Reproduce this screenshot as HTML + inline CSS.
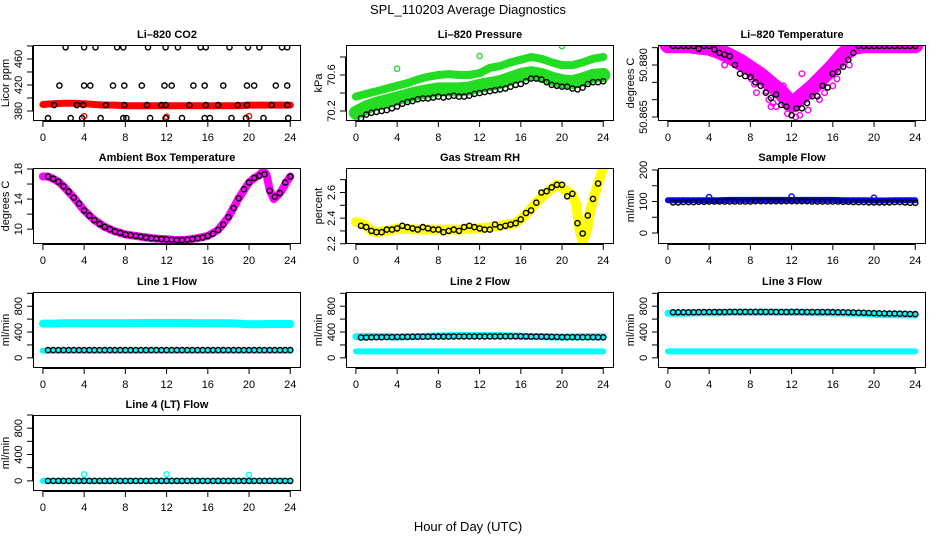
<!DOCTYPE html>
<html><head><meta charset="utf-8"><style>
html,body{margin:0;padding:0;background:#fff;}
svg{display:block;font-family:"Liberation Sans","DejaVu Sans",sans-serif;}
</style></head><body>
<svg id="chart" width="936" height="540" viewBox="0 0 936 540" xmlns="http://www.w3.org/2000/svg">
<text x="468" y="14" text-anchor="middle" font-size="13">SPL_110203  Average Diagnostics</text>
<text x="468" y="531" text-anchor="middle" font-size="13">Hour of Day (UTC)</text>
</svg>
<script>
// ---- shared data ----
const hb = [0.5,1,1.5,2,2.5,3,3.5,4,4.5,5,5.5,6,6.5,7,7.5,8,8.5,9,9.5,10,10.5,11,11.5,12,12.5,13,13.5,14,14.5,15,15.5,16,16.5,17,17.5,18,18.5,19,19.5,20,20.5,21,21.5,22,22.5,23,23.5,24];
const hk = [0,1,2,3,4,5,6,7,8,9,10,11,12,13,14,15,16,17,18,19,20,21,22,23,24];
const xTicks = [0,4,8,12,16,20,24];

// CO2
const co2Hours = [2.2,4,5.1,7.2,7.8,10.2,11.9,13.1,15.3,15.8,18.1,19.9,21,23.2,23.7, 1.6,4,4.6,6.8,7.9,9.6,11.8,12.5,14.6,15.7,17.5,19.8,20.5,22.6,23.7, 1.1,3.3,3.9,6.1,7.9,10.1,11.5,11.9,14.2,15.8,17,18.9,19.8,22.2,23.7, 0.5,2.7,3.8,5.6,7.8,8.1,10.4,11.9,13.5,15.7,16.2,18.3,19.7,21.4,23.8];
const co2Vals = [478,478,478,478,478,478,478,478,478,478,478,478,478,478,478, 419,419,419,419,419,419,419,419,419,419,419,419,419,419,419, 389,389,389,389,389,389,389,389,389,389,389,389,389,389,389, 369,369,369,369,369,369,369,369,369,369,369,369,369,369,369];
const co2Red = [390,391,392,392,391,390,389,389,388,388,388,388,388,388,388,388,388,388,388,388,389,389,389,389,389];
const co2RedOutH = [4,12,20];
const co2RedOutV = [372,371,372];

// Pressure
const presUpper = [70.36,70.39,70.42,70.45,70.48,70.51,70.55,70.58,70.60,70.61,70.60,70.60,70.62,70.68,70.70,70.74,70.77,70.80,70.78,70.74,70.71,70.71,70.74,70.78,70.80];
const presLower = [70.18,70.24,70.28,70.31,70.34,70.37,70.40,70.42,70.44,70.44,70.44,70.45,70.48,70.50,70.52,70.56,70.60,70.62,70.60,70.56,70.53,70.52,70.55,70.59,70.60];
const presBlack = [70.12,70.16,70.18,70.19,70.20,70.21,70.23,70.25,70.28,70.30,70.31,70.33,70.34,70.34,70.35,70.36,70.35,70.36,70.37,70.36,70.36,70.37,70.39,70.40,70.41,70.42,70.43,70.44,70.45,70.47,70.49,70.50,70.53,70.56,70.56,70.55,70.52,70.49,70.48,70.47,70.47,70.45,70.44,70.46,70.50,70.52,70.52,70.53];
const presOutH = [4,12,20];
const presOutV = [70.67,70.81,70.92];

// Li-820 temperature
const tempBlack = [50.8855,50.8855,50.8855,50.8855,50.8855,50.8847,50.8855,50.8855,50.8845,50.8835,50.883,50.8825,50.880,50.8775,50.8768,50.8765,50.875,50.874,50.872,50.8705,50.8715,50.8685,50.868,50.8655,50.8675,50.8675,50.869,50.871,50.871,50.874,50.8735,50.8775,50.878,50.8795,50.8815,50.8835,50.8855,50.8855,50.8855,50.8855,50.8855,50.8855,50.8855,50.8855,50.8855,50.8855,50.8855,50.8855];
const tempMag = [50.8857,50.8857,50.8857,50.8853,50.8850,50.8840,50.8825,50.8810,50.8790,50.8770,50.8745,50.8720,50.8685,50.8710,50.8735,50.8765,50.8795,50.8830,50.8852,50.8857,50.8857,50.8857,50.8857,50.8857,50.8857];
const tempMagOutH = [5.5,6.3,7.2,8.1,8.6,9.3,9.8,10.5,11.2,11.6,12.4,13.1,13.6,14.3,15.2,15.8,16.4,17.2,7.0,10.0,13.0,16.0,11.8,9.0,6.8,7.6,8.4,9.6,10.2,10.9,12.8,13.4,14.0,14.7,15.5,16.8,17.6,18.1];
const tempMagOutV = [50.8800,50.8830,50.8790,50.8760,50.8720,50.8755,50.8700,50.8680,50.8740,50.8660,50.8650,50.8700,50.8670,50.8760,50.8720,50.8790,50.8760,50.8830,50.8815,50.8680,50.8775,50.8740,50.8710,50.8770,50.8795,50.8805,50.8745,50.8725,50.8690,50.8720,50.8655,50.8735,50.8745,50.8700,50.8770,50.8810,50.8800,50.8845];

// Ambient box temperature
const ambBandH = [0,0.5,1,1.5,2,3,4,5,6,7,8,9,10,11,12,13,14,15,16,17,18,19,20,20.5,21,21.4,21.7,22,22.4,22.8,23.2,23.6,24];
const ambBand = [17,17,16.7,16.3,15.7,14.2,12.5,11.2,10.3,9.7,9.3,9.1,8.9,8.75,8.65,8.55,8.6,8.8,9.1,9.9,11.6,14.1,16.2,16.8,17.2,17.8,17.2,15.2,14.0,14.5,15.2,16.2,17];
const ambBlack = [17,16.7,16.3,15.7,15,14.2,13.4,12.5,11.8,11.2,10.7,10.3,10.0,9.7,9.5,9.3,9.2,9.1,9.0,8.9,8.8,8.75,8.7,8.65,8.6,8.55,8.55,8.6,8.7,8.8,8.9,9.1,9.4,9.9,10.6,11.6,12.8,14.1,15.3,16.2,16.8,17.1,17.3,15.1,14.3,14.8,16.2,17];

// Gas stream RH
const rhBandH = [0,0.5,1,1.5,2,3,4,6,8,10,12,14,15.5,16.5,17.5,18.5,19.5,20.3,21,21.4,21.7,22,22.4,22.8,23.3,24];
const rhBand = [2.37,2.36,2.34,2.30,2.29,2.30,2.32,2.31,2.31,2.31,2.32,2.34,2.36,2.43,2.52,2.60,2.66,2.62,2.58,2.50,2.30,2.22,2.30,2.48,2.62,2.80];
const rhBlack = [2.34,2.33,2.30,2.29,2.29,2.31,2.31,2.32,2.34,2.33,2.32,2.31,2.33,2.32,2.31,2.31,2.29,2.30,2.31,2.30,2.33,2.34,2.33,2.32,2.31,2.31,2.35,2.33,2.34,2.35,2.36,2.39,2.44,2.46,2.52,2.60,2.61,2.64,2.66,2.66,2.57,2.59,2.36,2.28,2.42,2.55,2.67,2.86];

// Sample flow
const sfBlue = [104,104,104,104,104,104,105,105,105,105,105,105,105,105,105,105,105,104,104,104,103,103,104,104,104];
const sfBlueOutH = [4,12,20];
const sfBlueOutV = [114,116,112];
const sfBlack = [97,97,98,98,98,99,99,100,100,100,100,100,100,100,100,100,101,101,101,101,101,101,101,101,101,101,101,100,100,100,100,100,100,99,99,98,98,98,97,97,97,97,97,98,98,97,96,96];

// Line flows
const l1Upper = [530,530,535,535,535,535,535,535,535,535,540,540,540,540,540,535,535,535,535,530,520,520,525,525,525];
const l1Lower = [110,110,110,110,110,110,110,110,110,110,110,110,110,110,110,110,110,110,110,110,110,110,110,110,110];
const l1Black = [120,120,120,120,120,120,120,120,120,120,120,120,120,120,120,120,120,120,120,120,120,120,120,120,120,120,120,120,120,120,120,120,120,120,120,120,120,120,120,120,120,120,120,120,120,120,120,120];
const l2Upper = [330,330,330,330,320,330,330,335,340,340,345,345,345,345,345,340,335,330,330,325,320,325,325,325,325];
const l2Lower = [100,100,100,100,100,100,100,100,100,100,100,100,100,100,100,100,100,100,100,100,100,100,100,100,100];
const l2Black = [315,315,318,320,320,322,322,325,325,325,326,328,328,330,330,330,330,330,332,332,332,332,332,333,333,333,333,333,334,334,334,334,333,330,330,328,326,325,325,322,322,322,320,320,320,320,318,318];
const l3Upper = [690,690,695,700,700,700,705,705,705,705,705,705,705,705,700,700,700,695,690,685,675,670,670,665,665];
const l3Lower = [100,100,100,100,100,100,100,100,100,100,100,100,100,100,100,100,100,100,100,100,100,100,100,100,100];
const l3Black = [705,705,705,706,706,707,708,710,710,710,711,712,712,712,712,712,712,712,712,712,711,711,711,712,712,711,711,710,710,710,710,708,706,705,704,702,700,698,695,692,690,688,686,685,684,682,680,678];
const l4Cyan = [0,0,0,0,0,0,0,0,0,0,0,0,0,0,0,0,0,0,0,0,0,0,0,0,0];
const l4CyanOutH = [4,12,20];
const l4CyanOutV = [100,100,90];
const l4Black = [0,0,0,0,0,0,0,0,0,0,0,0,0,0,0,0,0,0,0,0,0,0,0,0,0,0,0,0,0,0,0,0,0,0,0,0,0,0,0,0,0,0,0,0,0,0,0,0];

// ---- drawing ----
const NS = "http://www.w3.org/2000/svg";
const svg = document.getElementById("chart");
const colLeft = [33, 346, 658];
const rowTop = [45, 168, 292, 415];
const PW = 268, PH = 76;
const XLIM = [-0.96, 25.04];

function mk(tag, attrs, parent) {
  const e = document.createElementNS(NS, tag);
  for (const k in attrs) e.setAttribute(k, attrs[k]);
  (parent || svg).appendChild(e);
  return e;
}

function panel(p) {
  const L = colLeft[p.col], T = rowTop[p.row];
  const g = mk("g", {});
  
  
  const sx = h => L + (h - XLIM[0]) / (XLIM[1] - XLIM[0]) * PW;
  const sy = v => T + PH - (v - p.ylim[0]) / (p.ylim[1] - p.ylim[0]) * PH;
  const clipId = "clip-" + p.name;
  const cp = mk("clipPath", {id: clipId}, g);
  mk("rect", {x: L, y: T, width: PW, height: PH}, cp);
  const plot = mk("g", {"clip-path": "url(#" + clipId + ")"}, g);
  
  

  p.series.forEach(s => {
    if (s.type === "band") {
      const pts = s.x.map((h, i) => sx(h).toFixed(1) + "," + sy(s.y[i]).toFixed(1)).join(" ");
      const pl = mk("polyline", {points: pts, fill: "none", stroke: s.color, "stroke-width": s.w, "stroke-linecap": "round", "stroke-linejoin": "round"}, plot);
      
      
    } else {
      const sg = mk("g", {}, plot);
      
      
      s.x.forEach((h, i) => {
        const c = mk("circle", {cx: sx(h).toFixed(1), cy: sy(s.y[i]).toFixed(1), r: s.r || 2.6, fill: "none", stroke: s.color, "stroke-width": s.sw || 1.4}, sg);
        
        
      });
    }
  });

  const box = mk("rect", {x: L + 0.5, y: T + 0.5, width: PW - 1, height: PH - 1, fill: "none", stroke: "#000", "stroke-width": 1}, g);
  
  

  const t = mk("text", {x: L + PW / 2, y: T - 7, "text-anchor": "middle", "font-size": 11, "font-weight": "bold"}, g);
  t.textContent = p.title;
  
  

  const xa = mk("g", {}, g);
  
  
  mk("line", {x1: sx(0), x2: sx(24), y1: T + PH + 0.5, y2: T + PH + 0.5, stroke: "#000"}, xa);
  xTicks.forEach(v => {
    mk("line", {x1: sx(v), x2: sx(v), y1: T + PH, y2: T + PH + 6, stroke: "#000"}, xa);
    const tl = mk("text", {x: sx(v), y: T + PH + 20, "text-anchor": "middle", "font-size": 11}, xa);
    tl.textContent = v;
    
    
  });

  const ya = mk("g", {}, g);
  
  
  const yt = p.yticks;
  mk("line", {x1: L - 0.5, x2: L - 0.5, y1: sy(yt[0]), y2: sy(yt[yt.length - 1]), stroke: "#000"}, ya);
  yt.forEach((v, i) => {
    const y = sy(v);
    mk("line", {x1: L - 6, x2: L, y1: y, y2: y, stroke: "#000"}, ya);
    if (p.ylabels[i] !== "") {
      const tl = mk("text", {x: L - 11, y: y, "text-anchor": "middle", "font-size": 11, transform: "rotate(-90 " + (L - 11) + " " + y + ")"}, ya);
      tl.textContent = p.ylabels[i];
      
      
    }
  });
  const yc = T + PH / 2;
  const ytl = mk("text", {x: L - 24, y: yc, "text-anchor": "middle", "font-size": 11, transform: "rotate(-90 " + (L - 24) + " " + yc + ")"}, ya);
  ytl.textContent = p.ylab;
  
  
}

const flowTicks = [0,200,400,600,800,1000];
const flowLabels = ["0","","400","","800",""];

panel({name:"co2", col:0, row:0, title:"Li\u2013820 CO2", ylab:"Licor ppm", ylim:[364.6,481.5],
  yticks:[380,400,420,440,460,480], ylabels:["380","","420","","460",""],
  series:[
    {type:"band", name:"co2-red-band", x:hk, y:co2Red, color:"#ff0000", w:7},
    {type:"pts", name:"co2-red-outliers", x:co2RedOutH, y:co2RedOutV, color:"#ff0000"},
    {type:"pts", name:"co2-black-points", x:co2Hours, y:co2Vals, color:"#000"}
  ]});

panel({name:"pressure", col:1, row:0, title:"Li\u2013820 Pressure", ylab:"kPa", ylim:[70.089,70.933],
  yticks:[70.2,70.4,70.6,70.8], ylabels:["70.2","","70.6",""],
  series:[
    {type:"band", name:"pressure-green-upper", x:hk, y:presUpper, color:"#22dd22", w:8},
    {type:"band", name:"pressure-green-lower", x:hk, y:presLower, color:"#22dd22", w:14},
    {type:"pts", name:"pressure-green-outliers", x:presOutH, y:presOutV, color:"#22dd22"},
    {type:"pts", name:"pressure-black-points", x:hb, y:presBlack, color:"#000"}
  ]});

panel({name:"li820-temp", col:2, row:0, title:"Li\u2013820 Temperature", ylab:"degrees C", ylim:[50.86385,50.88577],
  yticks:[50.865,50.870,50.875,50.880,50.885], ylabels:["50.865","","","50.880",""],
  series:[
    {type:"band", name:"temp-magenta-band", x:hk, y:tempMag, color:"#ff00ff", w:16},
    {type:"pts", name:"temp-magenta-scatter", x:tempMagOutH, y:tempMagOutV, color:"#ff00ff", r:2.8},
    {type:"pts", name:"temp-black-points", x:hb, y:tempBlack, color:"#000"}
  ]});

panel({name:"ambient", col:0, row:1, title:"Ambient Box Temperature", ylab:"degrees C", ylim:[8.03,18.13],
  yticks:[10,12,14,16,18], ylabels:["10","","14","","18"],
  series:[
    {type:"band", name:"ambient-magenta-band", x:ambBandH, y:ambBand, color:"#ff00ff", w:8},
    {type:"pts", name:"ambient-black-points", x:hb, y:ambBlack, color:"#000"}
  ]});

panel({name:"rh", col:1, row:1, title:"Gas Stream RH", ylab:"percent", ylim:[2.198,2.791],
  yticks:[2.2,2.3,2.4,2.5,2.6,2.7], ylabels:["2.2","","2.4","","2.6",""],
  series:[
    {type:"band", name:"rh-yellow-band", x:rhBandH, y:rhBand, color:"#ffff00", w:10},
    {type:"pts", name:"rh-black-points", x:hb, y:rhBlack, color:"#000"}
  ]});

panel({name:"sample-flow", col:2, row:1, title:"Sample Flow", ylab:"ml/min", ylim:[-34.9,206.3],
  yticks:[0,50,100,150,200], ylabels:["0","","100","","200"],
  series:[
    {type:"band", name:"sample-blue-band", x:hk, y:sfBlue, color:"#0000ff", w:6},
    {type:"pts", name:"sample-blue-outliers", x:sfBlueOutH, y:sfBlueOutV, color:"#0000ff"},
    {type:"pts", name:"sample-black-points", x:hb, y:sfBlack, color:"#000"}
  ]});

panel({name:"line1", col:0, row:2, title:"Line 1 Flow", ylab:"ml/min", ylim:[-157,1020],
  yticks:flowTicks, ylabels:flowLabels,
  series:[
    {type:"band", name:"line1-cyan-upper", x:hk, y:l1Upper, color:"#00ffff", w:8},
    {type:"band", name:"line1-cyan-lower", x:hk, y:l1Lower, color:"#00ffff", w:6},
    {type:"pts", name:"line1-black-points", x:hb, y:l1Black, color:"#000"}
  ]});

panel({name:"line2", col:1, row:2, title:"Line 2 Flow", ylab:"ml/min", ylim:[-157,1020],
  yticks:flowTicks, ylabels:flowLabels,
  series:[
    {type:"band", name:"line2-cyan-upper", x:hk, y:l2Upper, color:"#00ffff", w:7},
    {type:"band", name:"line2-cyan-lower", x:hk, y:l2Lower, color:"#00ffff", w:6},
    {type:"pts", name:"line2-black-points", x:hb, y:l2Black, color:"#000"}
  ]});

panel({name:"line3", col:2, row:2, title:"Line 3 Flow", ylab:"ml/min", ylim:[-157,1020],
  yticks:flowTicks, ylabels:flowLabels,
  series:[
    {type:"band", name:"line3-cyan-upper", x:hk, y:l3Upper, color:"#00ffff", w:7},
    {type:"band", name:"line3-cyan-lower", x:hk, y:l3Lower, color:"#00ffff", w:6},
    {type:"pts", name:"line3-black-points", x:hb, y:l3Black, color:"#000"}
  ]});

panel({name:"line4", col:0, row:3, title:"Line 4 (LT) Flow", ylab:"ml/min", ylim:[-154,1000],
  yticks:flowTicks, ylabels:flowLabels,
  series:[
    {type:"band", name:"line4-cyan-band", x:hk, y:l4Cyan, color:"#00ffff", w:6},
    {type:"pts", name:"line4-cyan-outliers", x:l4CyanOutH, y:l4CyanOutV, color:"#00ffff"},
    {type:"pts", name:"line4-black-points", x:hb, y:l4Black, color:"#000"}
  ]});
</script>
</body></html>
